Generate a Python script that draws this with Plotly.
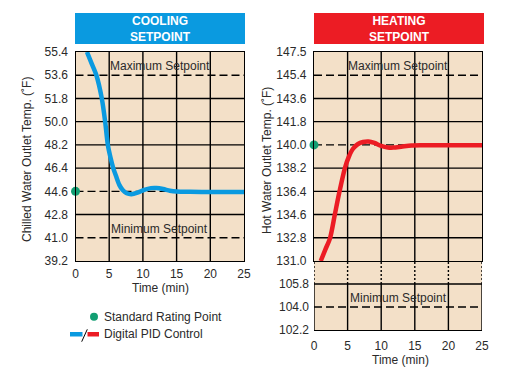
import plotly.graph_objects as go

# ---------------- data ----------------
time_ticks = [0, 5, 10, 15, 20, 25]

cool_ticks = [39.2, 41.0, 42.8, 44.6, 46.4, 48.2, 50.0, 51.8, 53.6, 55.4]
cool_max_setpoint = 53.6
cool_min_setpoint = 41.0
cool_rating_point = 44.6
cool_time = [1.7, 2.4, 3.1, 3.9, 4.4, 4.8, 5.2, 5.6, 6.0, 6.5, 7.0, 7.6, 8.3, 9.2,
             10.2, 11.2, 12.0, 13.0, 14.0, 15.0, 17.0, 20.0, 25.0]
cool_temp = [55.4, 54.5, 53.6, 51.8, 50.0, 48.2, 47.2, 46.4, 45.8, 45.1, 44.7, 44.45,
             44.38, 44.5, 44.72, 44.85, 44.86, 44.78, 44.65, 44.58, 44.56, 44.55, 44.55]

heat_ticks_upper = [131.0, 132.8, 134.6, 136.4, 138.2, 140.0, 141.8, 143.6, 145.4, 147.2]
heat_ticklabels_upper = ["131.0", "132.8", "134.6", "136.4", "138.2", "140.0",
                         "141.8", "143.6", "145.4", "147.5"]
heat_ticks_lower = [102.2, 104.0, 105.8, 107.6]
heat_ticklabels_lower = ["102.2", "104.0", "105.8", ""]
heat_max_setpoint = 145.4
heat_min_setpoint = 104.0
heat_rating_point = 140.0
heat_time = [1.0, 1.7, 2.4, 3.1, 3.8, 4.6, 5.2, 5.8, 6.5, 7.3, 8.1, 9.0, 10.0,
             11.0, 11.8, 13.0, 14.5, 16.0, 20.0, 25.0]
heat_temp = [131.0, 131.9, 132.8, 134.6, 136.4, 138.2, 139.1, 139.7, 140.05, 140.22,
             140.26, 140.15, 139.92, 139.8, 139.79, 139.86, 139.95, 139.97, 139.97, 139.98]

# ---------------- style ----------------
W, H = 513, 387
FONT = "Liberation Sans, Arial, sans-serif"
BLUE = "#0a9ae0"
RED = "#ec1c24"
GREEN = "#129e72"
BG = "#f3e0c8"
TXT = "#2a2a2a"
GRIDW = 1.4


def px(x):
    return x / W


def py(y):
    return 1 - y / H


fig = go.Figure()

fig.add_trace(go.Scatter(x=cool_time, y=cool_temp, mode="lines", xaxis="x", yaxis="y",
                         line=dict(color=BLUE, width=4.5, shape="spline", smoothing=0.8),
                         showlegend=False, hoverinfo="skip"))
fig.add_trace(go.Scatter(x=[0], y=[cool_rating_point], mode="markers", xaxis="x", yaxis="y",
                         marker=dict(color=GREEN, size=9), cliponaxis=False,
                         showlegend=False, hoverinfo="skip"))
fig.add_trace(go.Scatter(x=heat_time, y=heat_temp, mode="lines", xaxis="x2", yaxis="y2",
                         line=dict(color=RED, width=4.5, shape="spline", smoothing=0.8),
                         showlegend=False, hoverinfo="skip"))
fig.add_trace(go.Scatter(x=[0], y=[heat_rating_point], mode="markers", xaxis="x2", yaxis="y2",
                         marker=dict(color=GREEN, size=9), cliponaxis=False,
                         showlegend=False, hoverinfo="skip"))
fig.add_trace(go.Scatter(x=[0, 25], y=[103, 103], mode="lines", xaxis="x3", yaxis="y3",
                         line=dict(color="rgba(0,0,0,0)", width=0),
                         showlegend=False, hoverinfo="skip"))

tickfont = dict(family=FONT, size=12, color=TXT)
common_x = dict(range=[0, 25], tickvals=time_ticks, showgrid=False, zeroline=False,
                ticks="", tickfont=tickfont, linecolor="black", linewidth=GRIDW,
                fixedrange=True, automargin=False)
common_y = dict(showgrid=False, zeroline=False, ticks="", tickfont=tickfont,
                linecolor="black", linewidth=GRIDW, fixedrange=True, automargin=False)

fig.update_layout(
    template="none",
    width=W, height=H, margin=dict(l=0, r=0, t=0, b=0, autoexpand=False),
    paper_bgcolor="white", plot_bgcolor=BG, font=dict(family=FONT, color=TXT),
    xaxis=dict(domain=[px(75.5), px(244)], anchor="y", showline=True, mirror=True,
               ticklabelstandoff=1, **common_x),
    yaxis=dict(domain=[py(261), py(52)], anchor="x", range=[39.2, 55.4],
               tickvals=cool_ticks, ticktext=[f"{v:.1f}" for v in cool_ticks],
               showline=True, mirror=True, ticklabelstandoff=4, **common_y),
    xaxis2=dict(domain=[px(314), px(482)], anchor="y2", showline=True, mirror=True,
                showticklabels=False, **common_x),
    yaxis2=dict(domain=[py(261), py(52)], anchor="x2", range=[131.0, 147.2],
                tickvals=heat_ticks_upper, ticktext=heat_ticklabels_upper,
                showline=True, mirror=True, ticklabelstandoff=4, **common_y),
    xaxis3=dict(domain=[px(314), px(482)], anchor="y3", showline=True, mirror=False,
                ticklabelstandoff=4, **common_x),
    yaxis3=dict(domain=[py(330), py(261)], anchor="x3", range=[102.2, 107.6],
                tickvals=heat_ticks_lower, ticktext=heat_ticklabels_lower,
                showline=False, ticklabelstandoff=4, **common_y),
)

shapes = []
solid = dict(color="black", width=GRIDW)
dashed = dict(color="black", width=GRIDW, dash="8px,4px")
dotted = dict(color="black", width=GRIDW, dash="2px,2px")

# left grid
for v in cool_ticks[1:-1]:
    ln = dashed if v in (cool_max_setpoint, cool_min_setpoint, cool_rating_point) else solid
    shapes.append(dict(type="line", xref="x", yref="y", x0=0, x1=25, y0=v, y1=v,
                       line=ln, layer="below"))
for t in time_ticks[1:-1]:
    shapes.append(dict(type="line", xref="x", yref="y", x0=t, x1=t, y0=39.2, y1=55.4,
                       line=solid, layer="below"))

# right upper grid
for v in heat_ticks_upper[1:-1]:
    ln = dashed if v in (heat_max_setpoint, heat_rating_point) else solid
    shapes.append(dict(type="line", xref="x2", yref="y2", x0=0, x1=25, y0=v, y1=v,
                       line=ln, layer="below"))
for t in time_ticks[1:-1]:
    shapes.append(dict(type="line", xref="x2", yref="y2", x0=t, x1=t, y0=131.0, y1=147.2,
                       line=solid, layer="below"))

# right lower grid (broken axis)
for v in heat_ticks_lower[1:-1]:
    ln = dashed if v == heat_min_setpoint else solid
    shapes.append(dict(type="line", xref="x3", yref="y3", x0=0, x1=25, y0=v, y1=v,
                       line=ln, layer="below"))
for t in time_ticks:
    shapes.append(dict(type="line", xref="x3", yref="y3", x0=t, x1=t, y0=102.2,
                       y1=heat_ticks_lower[2], line=solid, layer="below"))
    shapes.append(dict(type="line", xref="x3", yref="y3", x0=t, x1=t,
                       y0=heat_ticks_lower[2], y1=heat_ticks_lower[3], line=dotted,
                       layer="below"))

# title boxes
shapes.append(dict(type="rect", xref="paper", yref="paper", x0=px(75), x1=px(245),
                   y0=py(44), y1=py(13), fillcolor=BLUE, line=dict(width=0)))
shapes.append(dict(type="rect", xref="paper", yref="paper", x0=px(314), x1=px(484),
                   y0=py(44), y1=py(13), fillcolor=RED, line=dict(width=0)))

# legend symbols
shapes.append(dict(type="circle", xref="paper", yref="paper", x0=px(90), x1=px(98),
                   y0=py(320.7), y1=py(312.7), fillcolor=GREEN, line=dict(width=0)))
shapes.append(dict(type="rect", xref="paper", yref="paper", x0=px(70), x1=px(82.5),
                   y0=py(336.5), y1=py(332), fillcolor=BLUE, line=dict(width=0)))
shapes.append(dict(type="rect", xref="paper", yref="paper", x0=px(87.5), x1=px(99),
                   y0=py(336.5), y1=py(332), fillcolor=RED, line=dict(width=0)))
shapes.append(dict(type="line", xref="paper", yref="paper", x0=px(81.7), x1=px(87.3),
                   y0=py(341.7), y1=py(329.3), line=dict(color="black", width=1)))

fig.update_layout(shapes=shapes)

f12 = dict(family=FONT, size=12, color=TXT)
C = dict(xanchor="center", yanchor="middle", showarrow=False)
ann = [
    dict(text="<b>COOLING<br>SETPOINT</b>", xref="paper", yref="paper", x=px(160),
         y=py(28.5), font=dict(family=FONT, size=12, color="white"), **C),
    dict(text="<b>HEATING<br>SETPOINT</b>", xref="paper", yref="paper", x=px(399),
         y=py(28.5), font=dict(family=FONT, size=12, color="white"), **C),
    dict(text="Maximum Setpoint", xref="x", yref="y", x=12.5, y=cool_max_setpoint,
         xanchor="center", yanchor="bottom", showarrow=False, font=f12),
    dict(text="Minimum Setpoint", xref="x", yref="y", x=12.5, y=cool_min_setpoint,
         xanchor="center", yanchor="bottom", showarrow=False, font=f12),
    dict(text="Maximum Setpoint", xref="x2", yref="y2", x=12.5, y=heat_max_setpoint,
         xanchor="center", yanchor="bottom", showarrow=False, font=f12),
    dict(text="Minimum Setpoint", xref="x3", yref="y3", x=12.5, y=heat_min_setpoint,
         xanchor="center", yanchor="bottom", showarrow=False, font=f12),
    dict(text="Chilled Water Outlet Temp. (˚F)", xref="paper", yref="paper", x=px(27),
         y=py(160), textangle=-90, font=f12, **C),
    dict(text="Hot Water Outlet Temp. (˚F)", xref="paper", yref="paper", x=px(266.5),
         y=py(160.5), textangle=-90, font=f12, **C),
    dict(text="Time (min)", xref="paper", yref="paper", x=px(160), y=py(288),
         font=f12, **C),
    dict(text="Time (min)", xref="paper", yref="paper", x=px(400), y=py(360),
         font=f12, **C),
    dict(text="Standard Rating Point", xref="paper", yref="paper", x=px(102),
         y=py(316.7), xanchor="left", yanchor="middle", showarrow=False, font=f12),
    dict(text="Digital PID Control", xref="paper", yref="paper", x=px(102),
         y=py(334.3), xanchor="left", yanchor="middle", showarrow=False, font=f12),
]
fig.update_layout(annotations=ann)

fig.write_html("out.html", config={"displayModeBar": False},
               post_script="document.body.style.margin='0';document.body.style.overflow='hidden';")
